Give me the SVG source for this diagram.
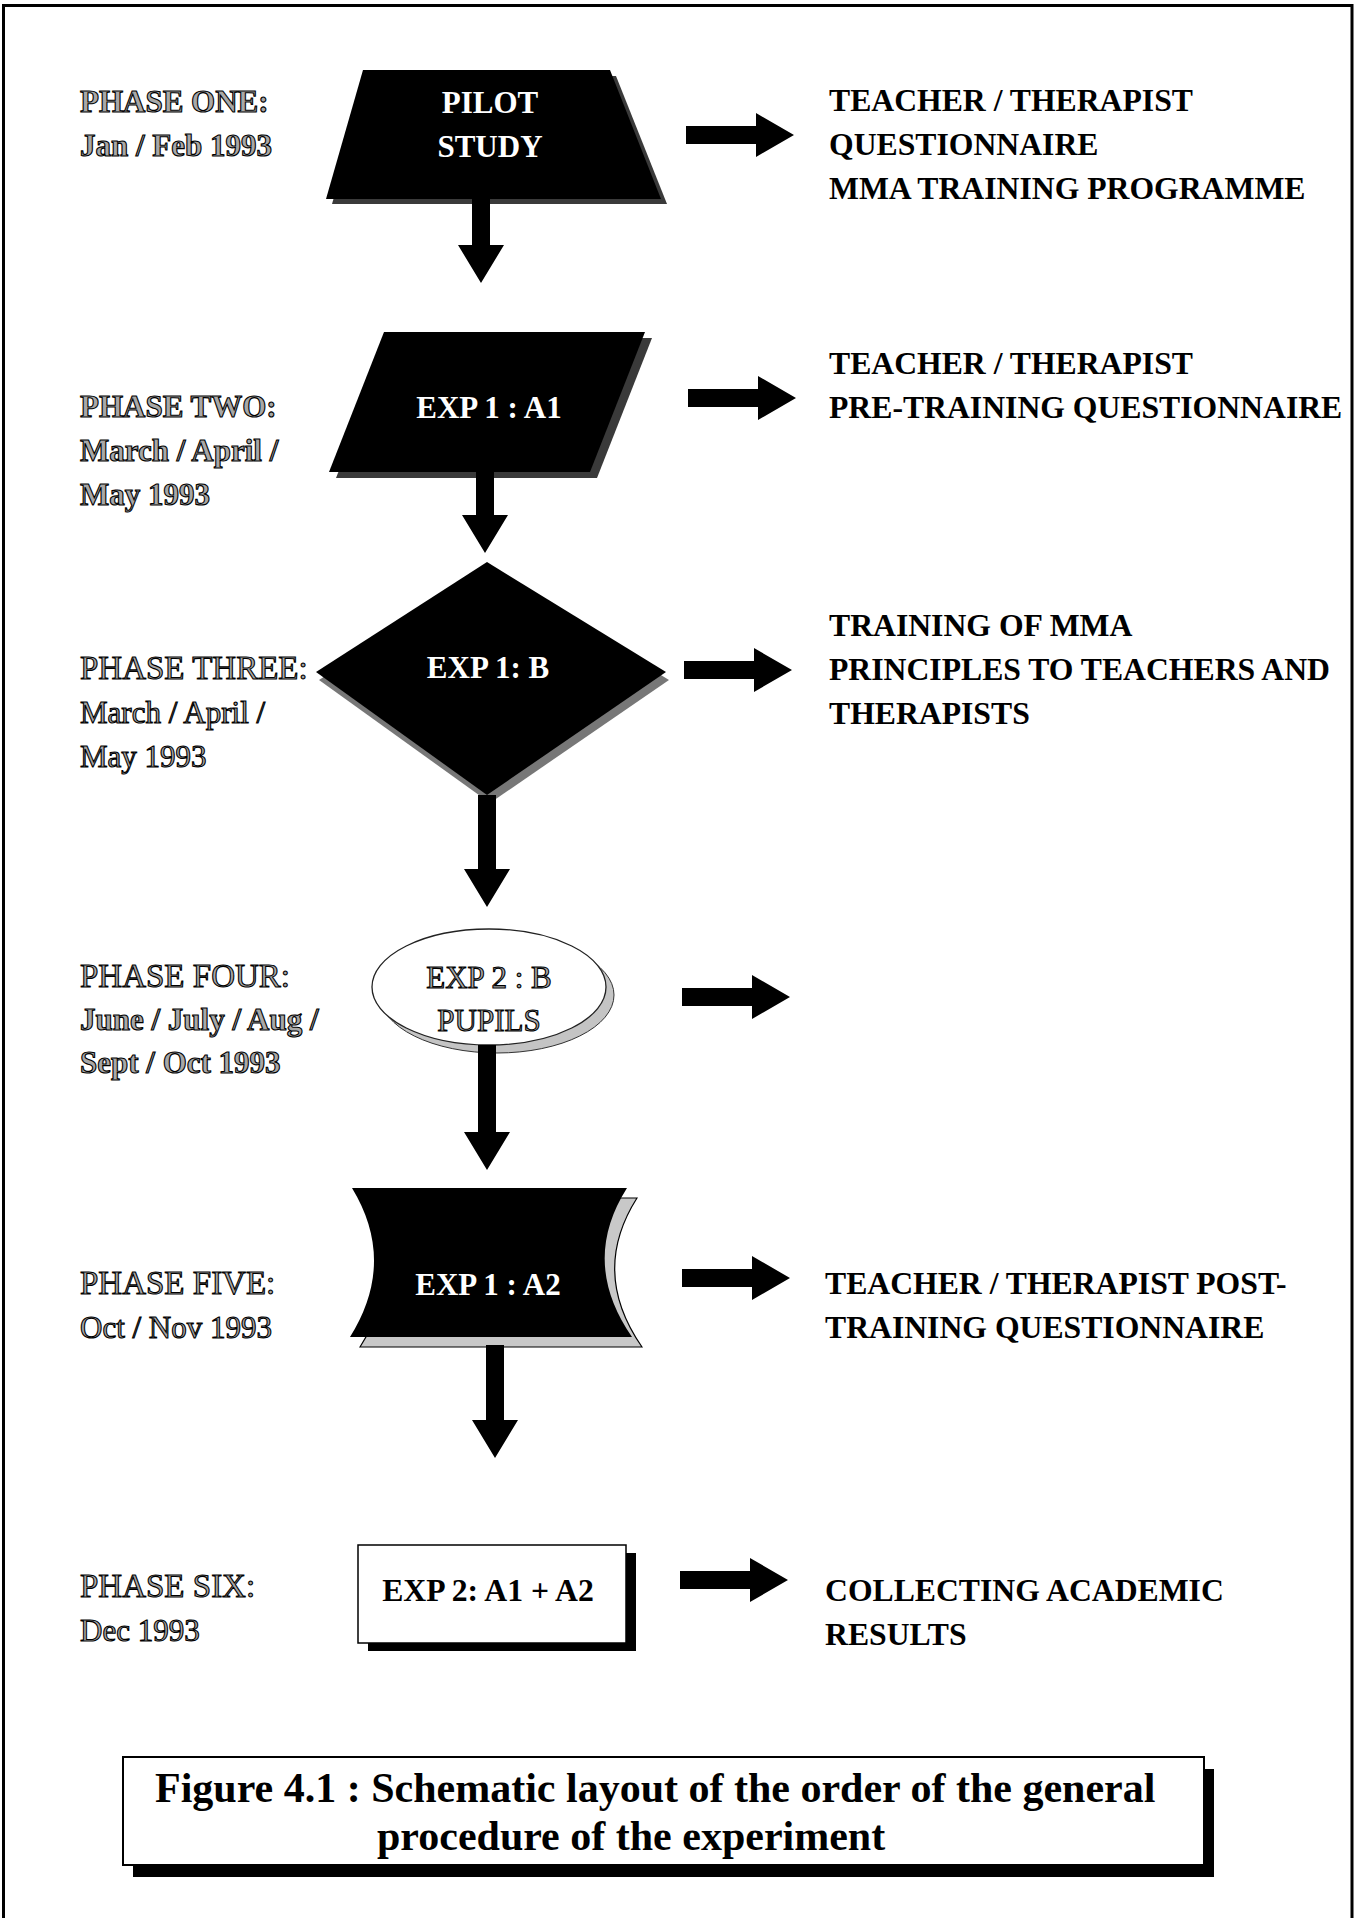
<svg xmlns="http://www.w3.org/2000/svg" width="1356" height="1918" viewBox="0 0 1356 1918">
<style>
text { font-family: "Liberation Serif", "Times New Roman", serif; font-size: 31px; }
.b { font-weight: bold; }
.rt { font-weight: bold; fill: #000; font-size: 31.7px; }
.wt { font-weight: bold; fill: #fff; text-anchor: middle; }
.ol { fill: #a8a8a8; stroke: #000; stroke-width: 1.1; }
.ph { font-size: 33px; }
.mid { text-anchor: middle; }
.blk { fill: #000; }
.sh { fill: #3a3a3a; }
.cap { font-size: 42px; font-weight: bold; fill: #000; }
</style>
<defs>
<path id="ra" d="M0,-9 H70 V-22 L108,0 L70,22 V9 H0 Z"/>
</defs>
<rect width="1356" height="1918" fill="#fff"/>
<path id="frame" d="M3.5,1918 V5.5 H1352 V1918" fill="none" stroke="#000" stroke-width="3"/>

<g id="phase1">
<text class="ol b" x="80" y="112">PHASE ONE:</text>
<text class="ol b" x="80" y="156">Jan / Feb 1993</text>
<polygon class="sh" points="369,76 616,76 667,204 332,204"/>
<polygon class="blk" points="363,70 610,70 661,199 326,199"/>
<text class="wt" x="490" y="113">PILOT</text>
<text class="wt" x="490" y="157">STUDY</text>
<text class="rt" x="829" y="111">TEACHER / THERAPIST</text>
<text class="rt" x="829" y="155">QUESTIONNAIRE</text>
<text class="rt" x="829" y="199">MMA TRAINING PROGRAMME</text>
</g>

<g id="phase2">
<text class="ol b" x="80" y="417">PHASE TWO:</text>
<text class="ol b" x="80" y="461">March / April /</text>
<text class="ol b" x="80" y="505">May 1993</text>
<polygon class="sh" points="391,338 652,338 597,478 336,478"/>
<polygon class="blk" points="384,332 645,332 590,472 329,472"/>
<text class="wt" x="489" y="418">EXP 1 : A1</text>
<text class="rt" x="829" y="374">TEACHER / THERAPIST</text>
<text class="rt" x="829" y="418">PRE-TRAINING QUESTIONNAIRE</text>
</g>

<g id="phase3">
<text class="ol ph" x="80" y="679">PHASE THREE:</text>
<text class="ol" x="80" y="723">March / April /</text>
<text class="ol" x="80" y="767">May 1993</text>
<polygon fill="#777" points="490,570 669,680 490,803 319,680"/>
<polygon class="blk" points="487,562 666,672 487,795 316,672"/>
<text class="wt" x="488" y="678">EXP 1: B</text>
<text class="rt" x="829" y="636">TRAINING OF MMA</text>
<text class="rt" x="829" y="680">PRINCIPLES TO TEACHERS AND</text>
<text class="rt" x="829" y="724">THERAPISTS</text>
</g>

<g id="phase4">
<text class="ol ph" x="80" y="987">PHASE FOUR:</text>
<text class="ol b" x="80" y="1030">June / July / Aug /</text>
<text class="ol b" x="80" y="1073">Sept / Oct 1993</text>
<ellipse cx="497" cy="995" rx="117" ry="58" fill="#c4c4c4" stroke="#333" stroke-width="1"/>
<ellipse cx="489" cy="987" rx="117" ry="58" fill="#fff" stroke="#222" stroke-width="1.3"/>
<text class="ol mid" x="489" y="988">EXP 2 : B</text>
<text class="ol mid" x="489" y="1031">PUPILS</text>
</g>

<g id="phase5">
<text class="ol ph" x="80" y="1294">PHASE FIVE:</text>
<text class="ol" x="80" y="1338">Oct / Nov 1993</text>
<path d="M362,1198 L637,1198 Q590,1272 642,1347 L360,1347 Q407,1272 362,1198 Z" fill="#c8c8c8" stroke="#000" stroke-width="1.2"/>
<path class="blk" d="M352,1188 L627,1188 Q580,1262 632,1337 L350,1337 Q397,1262 352,1188 Z"/>
<text class="wt" x="488" y="1295">EXP 1 : A2</text>
<text class="rt" x="825" y="1294">TEACHER / THERAPIST POST-</text>
<text class="rt" x="825" y="1338">TRAINING QUESTIONNAIRE</text>
</g>

<g id="phase6">
<text class="ol ph" x="80" y="1597">PHASE SIX:</text>
<text class="ol" x="80" y="1641">Dec 1993</text>
<rect x="368" y="1553" width="268" height="98" fill="#000"/>
<rect x="358" y="1545" width="268" height="98" fill="#fff" stroke="#000" stroke-width="1.5"/>
<text class="rt mid" x="488" y="1601">EXP 2: A1 + A2</text>
<text class="rt" x="825" y="1601">COLLECTING ACADEMIC</text>
<text class="rt" x="825" y="1645">RESULTS</text>
</g>

<g id="caption">
<rect x="133" y="1769" width="1081" height="108" fill="#000"/>
<rect x="123" y="1757" width="1081" height="108" fill="#fff" stroke="#000" stroke-width="2"/>
<text class="cap" x="155" y="1802">Figure 4.1 : Schematic layout of the order of the general</text>
<text class="cap" x="377" y="1850">procedure of the experiment</text>
</g>

<g id="connectors" fill="#000">
<path d="M472,199 V245 H458 L481,283 L504,245 H490 V199 Z"/>
<path d="M476,472 V515 H462 L485,553 L508,515 H494 V472 Z"/>
<path d="M478,795 V869 H464 L487,907 L510,869 H496 V795 Z"/>
<path d="M478,1045 V1132 H464 L487,1170 L510,1132 H496 V1045 Z"/>
<path d="M486,1345 V1420 H472 L495,1458 L518,1420 H504 V1345 Z"/>
<use href="#ra" x="686" y="135"/>
<use href="#ra" x="688" y="398"/>
<use href="#ra" x="684" y="670"/>
<use href="#ra" x="682" y="997"/>
<use href="#ra" x="682" y="1278"/>
<use href="#ra" x="680" y="1580"/>
</g>
</svg>
